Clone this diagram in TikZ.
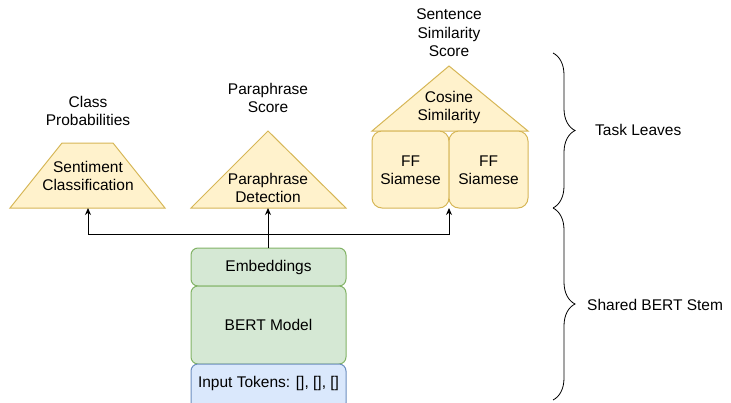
\documentclass[tikz,border=0pt]{standalone}
\usepackage{fontspec}
\setmainfont{Liberation Sans}
\usetikzlibrary{arrows.meta,decorations.pathreplacing}
\definecolor{yfill}{HTML}{FFF2CC}
\definecolor{ydraw}{HTML}{D6B656}
\definecolor{gfill}{HTML}{D5E8D4}
\definecolor{gdraw}{HTML}{82B366}
\definecolor{bfill}{HTML}{DAE8FC}
\definecolor{bdraw}{HTML}{6C8EBF}
\begin{document}
\begin{tikzpicture}[x=1pt,y=-1pt,
  txt/.style={font=\fontsize{15.5}{18.5}\selectfont, align=center, inner sep=0pt},
  yshape/.style={fill=yfill, draw=ydraw, line width=1pt},
  gbox/.style={fill=gfill, draw=gdraw, line width=1pt, rounded corners=7pt},
  bbox/.style={fill=bfill, draw=bdraw, line width=1pt, rounded corners=7pt},
  ybox/.style={fill=yfill, draw=ydraw, line width=1pt, rounded corners=10pt},
  conn/.style={line width=1pt, -{Stealth[length=7pt,width=6pt]}},
  brace/.style={decorate, decoration={brace, amplitude=22pt}, line width=0.8pt}]
\useasboundingbox (0,0) rectangle (731,402);

% Sentiment trapezoid
\draw[yshape] (62,143) -- (113,143) -- (165,208) -- (10,208) -- cycle;
\node[txt] (sent) at (88,176) {Sentiment\\Classification};
\coordinate (sentB) at (88,208);
\node[txt] (classp) at (88,111) {Class\\Probabilities};

% Paraphrase triangle
\draw[yshape] (268,131) -- (346,208) -- (191,208) -- cycle;
\node[txt] (para) at (268,188) {Paraphrase\\Detection};
\coordinate (paraB) at (268,208);
\node[txt] (parasc) at (268,98) {Paraphrase\\Score};

% Cosine triangle
\draw[yshape] (449,66) -- (528,131) -- (372,131) -- cycle;
\node[txt] (cos) at (449,107.5) {Cosine\\Similarity};
\node[txt] (sss) at (449,33) {Sentence\\Similarity\\Score};

% FF Siamese boxes
\draw[ybox] (372,131) rectangle (449,208);
\draw[ybox] (449,131) rectangle (528,208);
\node[txt] (ff1) at (410.5,170) {FF\\Siamese};
\node[txt] (ff2) at (488.5,170) {FF\\Siamese};
\coordinate (ffB) at (449,208);

% BERT stem
\draw[gbox] (191,248) rectangle (346,286);
\node[txt] (emb) at (268.5,267) {Embeddings};
\coordinate (embT) at (268,248);
\draw[gbox] (191,286) rectangle (346,364);
\node[txt] (bert) at (268.5,325) {BERT Model};
\draw[bbox] (191,364) rectangle (346,410);
\node[txt] (inp) at (268.5,383) {Input Tokens: [], [], []};

% Connectors
\coordinate (j) at (268,234);
\draw[conn] (embT) -- (paraB);
\draw[conn] (j) -- (88,234) -- (sentB);
\draw[conn] (j) -- (449,234) -- (ffB);

% Braces
\draw[brace] (553,53) -- (553,208);
\draw[brace] (553,208) -- (553,400);
\node[txt, anchor=west] (tl) at (595,130) {Task Leaves};
\node[txt, anchor=west] (sb) at (587,305) {Shared BERT Stem};
\end{tikzpicture}
\end{document}
